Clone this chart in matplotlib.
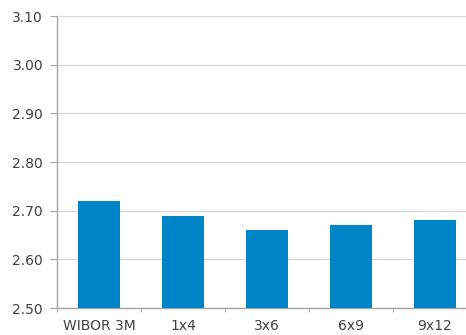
import matplotlib.pyplot as plt
import numpy as np

# WIBOR 3M and FRA quotes
categories = ['WIBOR 3M', '1x4', '3x6', '6x9', '9x12']
rates = [2.72, 2.69, 2.66, 2.67, 2.68]
y_ticks = [2.50, 2.60, 2.70, 2.80, 2.90, 3.00, 3.10]

bar_color = '#0084c8'
axis_color = '#a6a6a6'
grid_color = '#d9d9d9'
text_color = '#404040'

plt.rcParams['font.family'] = ['DejaVu Sans']

fig = plt.figure(figsize=(4.66, 3.35), dpi=100)
ax = fig.add_axes([57 / 466, 27 / 335, 420 / 466, 292 / 335])

x = np.arange(len(categories))
ax.bar(x, rates, width=0.5, color=bar_color, zorder=3)

ax.set_xlim(-0.5, len(categories) - 0.5)
ax.set_ylim(2.50, 3.10)
ax.set_yticks(y_ticks)
ax.set_yticklabels(['%.2f' % v for v in y_ticks])
ax.yaxis.grid(True, color=grid_color, linewidth=1, zorder=0)

# category labels centred under bars, tick marks between categories
ax.set_xticks(x)
ax.set_xticklabels(categories)
ax.tick_params(axis='x', length=0, pad=8)
ax.set_xticks(np.arange(len(categories) + 1) - 0.5, minor=True)
ax.tick_params(axis='x', which='minor', length=3, color=axis_color, direction='out')
ax.tick_params(axis='y', length=5, color=axis_color, pad=5)
ax.tick_params(labelsize=10, labelcolor=text_color)

for side in ['top', 'right']:
    ax.spines[side].set_visible(False)
for side in ['left', 'bottom']:
    ax.spines[side].set_color(axis_color)
    ax.spines[side].set_linewidth(1)

plt.savefig('out.png', dpi=100)
